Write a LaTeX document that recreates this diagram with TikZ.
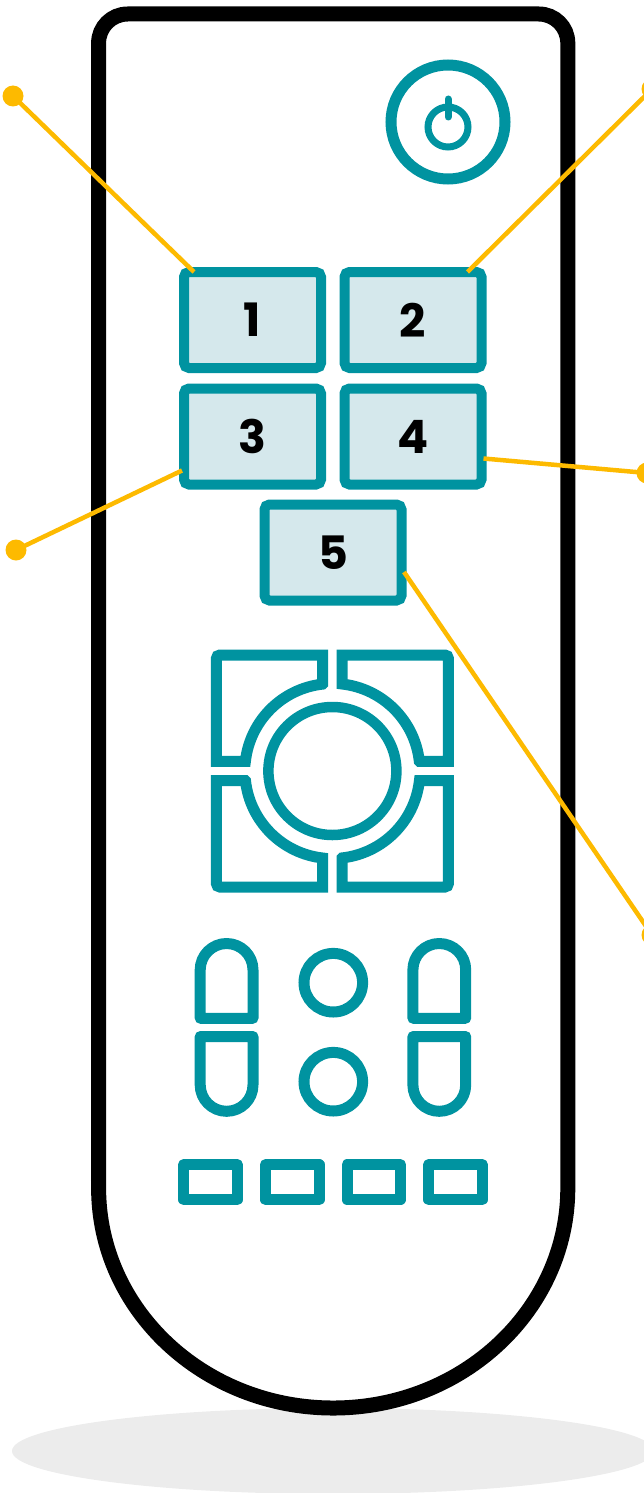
\documentclass[tikz,border=0pt]{standalone}
\usepackage{fontspec}
\newfontfamily\keyfont{Poppins}
\definecolor{remoteteal}{RGB}{0,147,160}
\definecolor{keyfill}{RGB}{213,232,236}
\definecolor{calloutyellow}{RGB}{253,186,0}
\definecolor{shadowgray}{RGB}{236,236,236}

\begin{document}
\begin{tikzpicture}[x=1pt,y=1pt,
    numkey/.style={draw=remoteteal, fill=keyfill, line width=10pt,
      rounded corners=5pt, minimum width=137pt, minimum height=96pt,
      inner sep=0pt, outer sep=0pt,
      font=\keyfont\bfseries\fontsize{46}{46}\selectfont},
    padline/.style={draw=remoteteal, line width=11pt},
    wire/.style={calloutyellow, line width=4.5pt},
    calloutdot/.style={circle, fill=calloutyellow, minimum size=21pt, inner sep=0pt},
    remotepill/.pic={
      \draw[padline, line join=round]
        (-26.4,-37.4) -- (-26.4,11) arc[start angle=180, end angle=0, radius=26.4]
        -- (26.4,-37.4) -- cycle;
    }]
    \useasboundingbox (0,0) rectangle (644,-1493);

    % Cień pod pilotem
    \fill[shadowgray] (333,-1451) ellipse[x radius=321, y radius=43];

    % Obudowa pilota
    \draw[black, line width=15pt, fill=white]
      (98.6,-1188) -- (98.6,-43) arc[start angle=180, end angle=90, radius=29]
      -- (538.8,-14) arc[start angle=90, end angle=0, radius=29]
      -- (567.8,-1188) arc[start angle=0, end angle=-180, x radius=234.6, y radius=220]
      -- cycle;

    % Włącznik
    \draw[remoteteal, line width=11pt] (448,-122) circle[radius=57];
    \draw[remoteteal, line width=7pt] (448,-127) circle[radius=20];
    \draw[remoteteal, line width=7pt, line cap=round] (448,-99) -- (448,-117);

    % Przyciski z numerami
    \node[numkey] (k1) at (252.5,-320) {1};
    \node[numkey] (k2) at (413,-320) {2};
    \node[numkey] (k3) at (252.5,-436.5) {3};
    \node[numkey] (k4) at (413,-436.5) {4};
    \node[numkey] (k5) at (333,-552.5) {5};

    % Krzyżak: cztery ćwiartki i środek
    \foreach \ang in {0,90,180,270}
    {
      \begin{scope}[shift={(332.4,-771)}, rotate=\ang]
        \draw[padline]
          (-9.7,87) -- (-9.7,116) -- (-112.5,116)
          arc[start angle=90, end angle=180, radius=3.5]
          -- (-116,9.7) -- (-87,9.7)
          arc[start angle=173.6, end angle=96.4, radius=87.5] -- cycle;
      \end{scope}
    }
    \draw[padline, line width=10.5pt] (332.4,-771) circle[radius=64];

    % Przyciski owalne i okrągłe
    \foreach \px in {226.6,439.3}
    {
      \pic at (\px,-980.9) {remotepill};
      \pic[rotate=180] at (\px,-1073.9) {remotepill};
    }
    \draw[padline] (333.3,-982.7) circle[radius=29.3];
    \draw[padline] (333.3,-1081.7) circle[radius=29.3];

    % Dolny rząd przycisków
    \foreach \bx in {210.5,292.2,373.8,455.5}
    {
      \draw[padline, line join=round]
        (\bx-26.8,-1164.7) rectangle (\bx+26.8,-1199.7);
    }

    % Odnośniki
    \node[calloutdot] (d1) at (13,-96) {};
    \node[calloutdot] (d2) at (652,-89) {};
    \node[calloutdot] (d3) at (16,-550) {};
    \node[calloutdot] (d4) at (647,-473) {};
    \node[calloutdot] (d5) at (652,-935) {};

    \draw[wire] (d1.center) -- ([xshift=10pt]k1.north west);
    \draw[wire] (d2.center) -- ([xshift=-14pt]k2.north east);
    \draw[wire] (d3.center) -- ([xshift=-2pt,yshift=14pt]k3.south west);
    \draw[wire] (d4.center) -- ([xshift=2pt,yshift=26pt]k4.south east);
    \draw[wire] (d5.center) -- ([xshift=2.5pt,yshift=-19.5pt]k5.east);

\end{tikzpicture}
\end{document}
